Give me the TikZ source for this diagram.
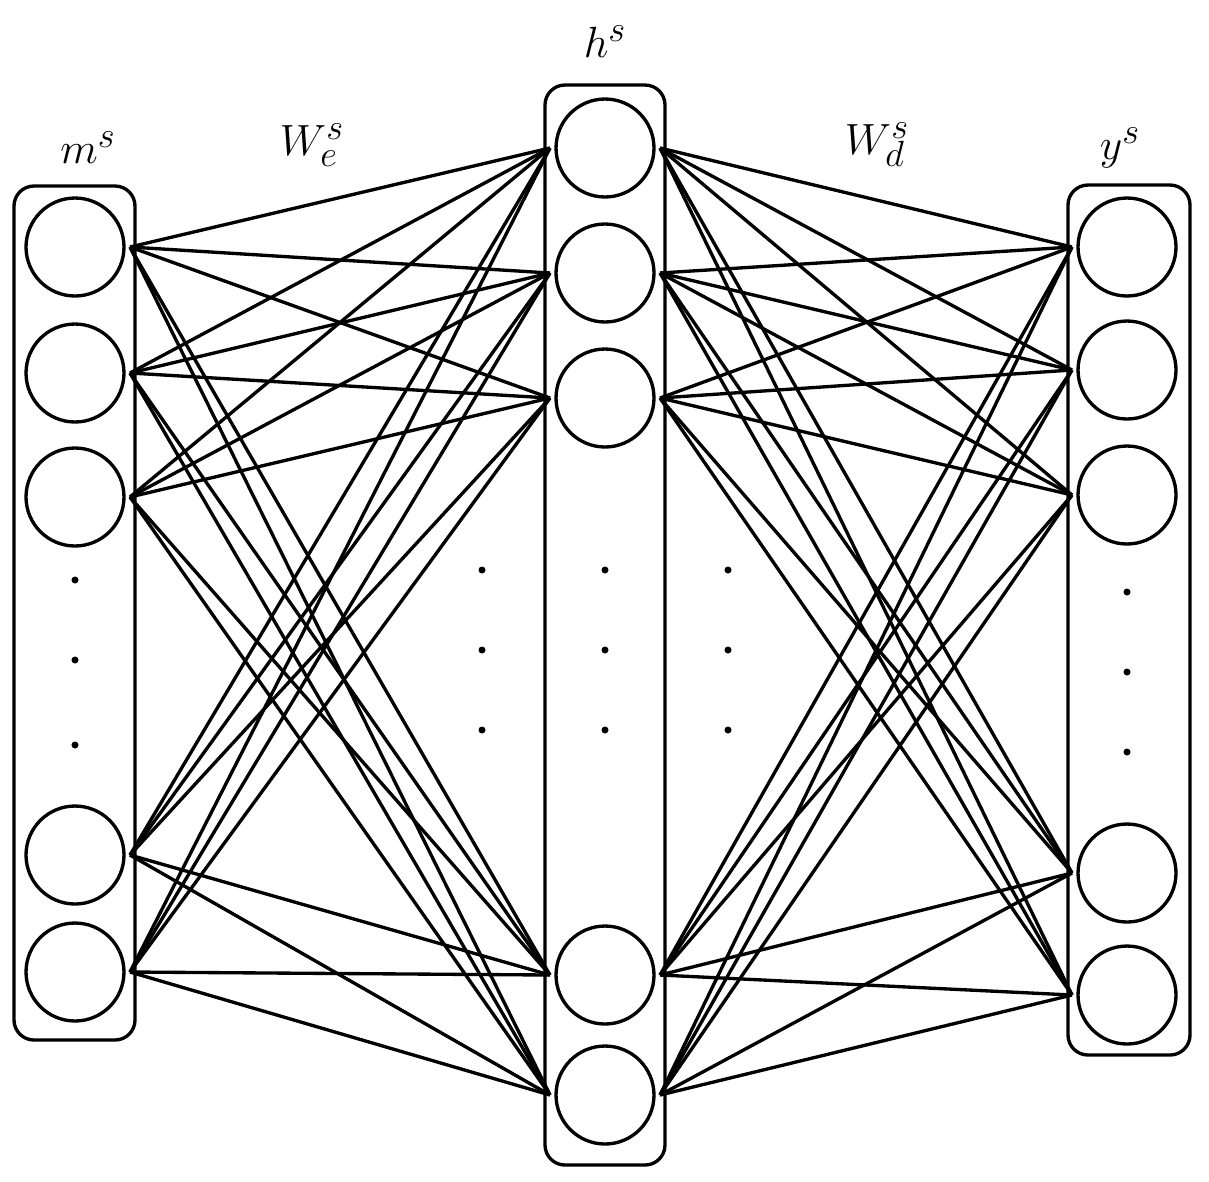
\documentclass[tikz,border=0pt]{standalone}
\usetikzlibrary{positioning}
\begin{document}
\begin{tikzpicture}[x=0.02cm,y=-0.02cm,line width=1.9pt,
unit/.style={draw,circle,minimum size=1.96cm,inner sep=0pt},
layer/.style={draw,rounded corners=0.4cm},
lab/.style={font=\fontsize{32}{38}\selectfont},
dot/.style={fill,circle,inner sep=0pt,minimum size=4pt}]
\useasboundingbox (0,0) rectangle (1209,1181);
% layer boxes
\draw[layer] (14,186) rectangle (135,1040);
\draw[layer] (545,85) rectangle (665,1165);
\draw[layer] (1068,185) rectangle (1190,1055);
% units
\foreach \n/\y in {1/247,2/373,3/497,4/855,5/972}{
  \node (m\n) [unit] at (75,\y) {};
  \coordinate (mo\n) at (130,\y);}
\foreach \n/\y in {1/148,2/273,3/398,4/975,5/1095}{
  \node (h\n) [unit] at (605,\y) {};
  \coordinate (hi\n) at (550,\y);
  \coordinate (ho\n) at (660,\y);}
\foreach \n/\y in {1/247,2/370,3/495,4/873,5/995}{
  \node (y\n) [unit] at (1127,\y) {};
  \coordinate (yi\n) at (1072,\y);}
% weights
\foreach \i in {1,...,5}{
  \foreach \j in {1,...,5}{
    \draw (mo\i) -- (hi\j);
    \draw (ho\i) -- (yi\j);}}
% dots
\foreach \y in {580,660,745}{\node (dm\y) [dot] at (75,\y) {};}
\foreach \y in {570,650,730}{
  \node (da\y) [dot] at (482,\y) {};
  \node (dh\y) [dot] at (605,\y) {};
  \node (db\y) [dot] at (728,\y) {};}
\foreach \y in {592,672,752}{\node (dy\y) [dot] at (1127,\y) {};}
% labels
\node (lm) [lab] at (88,148) {$m^s$};
\node (lwe) [lab] at (312,145) {$W_e^s$};
\node (lh) [lab] at (605,42) {$h^s$};
\node (lwd) [lab] at (877,145) {$W_d^s$};
\node (ly) [lab] at (1120,148) {$y^s$};
\end{tikzpicture}
\end{document}
